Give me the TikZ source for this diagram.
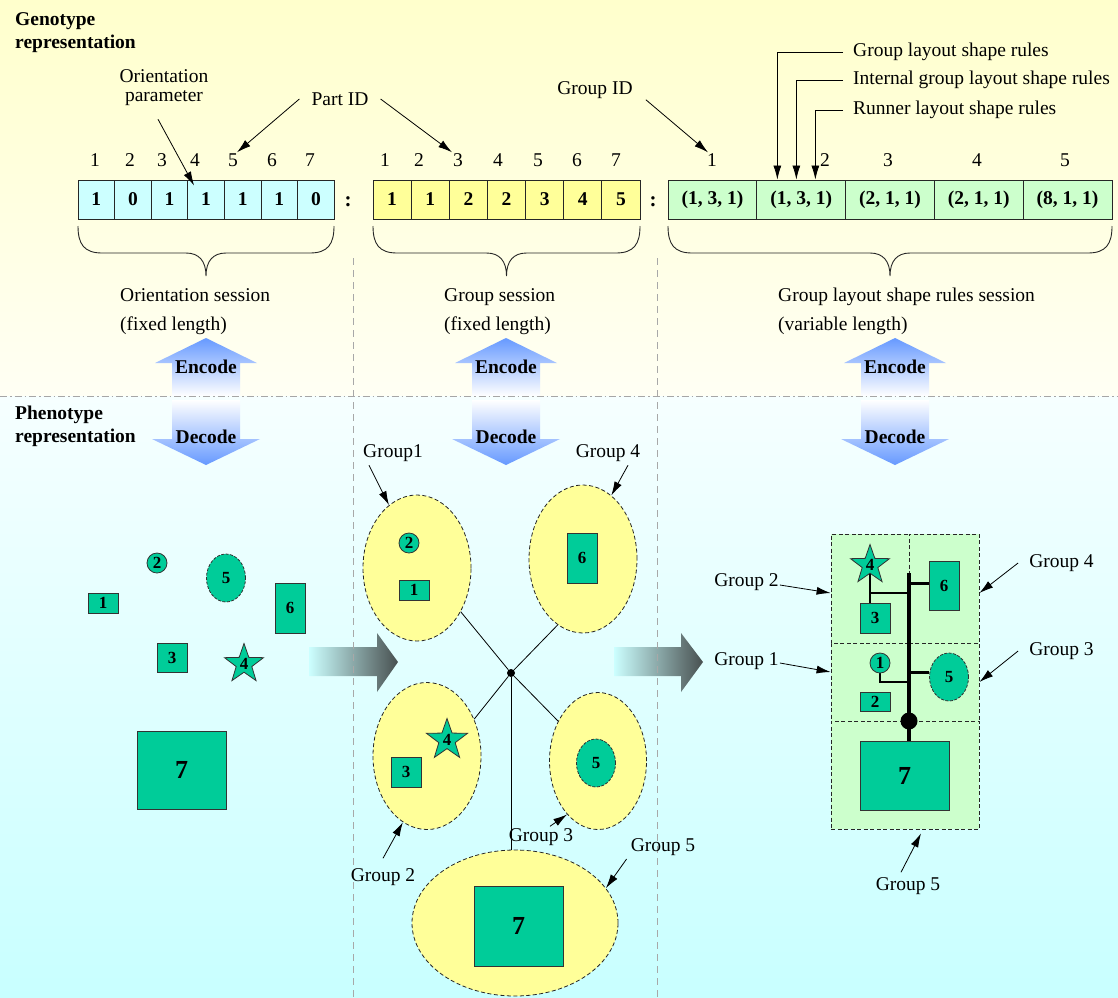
\documentclass[tikz,border=0pt]{standalone}
\usepackage{fontspec}
\setmainfont{Liberation Serif}
\usetikzlibrary{shapes.geometric,arrows.meta,calc}
\pgfdeclarelayer{back}
\pgfdeclarelayer{wire}
\pgfsetlayers{back,wire,main}

\definecolor{partgreen}{HTML}{00CC99}
\definecolor{cellcyan}{HTML}{CCFFFF}
\definecolor{cellyellow}{HTML}{FFFF99}
\definecolor{cellgreen}{HTML}{CCFFCC}
\definecolor{groupyellow}{HTML}{FFFF99}
\definecolor{arrowblue}{HTML}{6699FF}
\definecolor{topyellow}{HTML}{FFFFCC}
\definecolor{midyellow}{HTML}{FFFFF4}
\definecolor{midcyan}{HTML}{F6FFFF}
\definecolor{botcyan}{HTML}{C8FFFF}
\definecolor{flowgray}{HTML}{485050}
\definecolor{flowcyan}{HTML}{CCFFFF}
\definecolor{guidegray}{HTML}{A8A8A8}

\newcommand\lblsize{\fontsize{19.5}{21}\selectfont}

% curly brace under a chromosome session, from x=#1 to x=#2
\newcommand\sessionbrace[2]{%
  \draw[bracepen] (#1,226) .. controls (#1,244) and (#1+6,253) .. (#1+24,253)
    -- ({(#1+#2)/2-20},253) .. controls ({(#1+#2)/2-7},253) and ({(#1+#2)/2},261) .. ({(#1+#2)/2},276)
    .. controls ({(#1+#2)/2},261) and ({(#1+#2)/2+7},253) .. ({(#1+#2)/2+20},253)
    -- (#2-24,253) .. controls (#2-6,253) and (#2,244) .. (#2,226);}

\tikzset{
  lbl/.style={font=\lblsize, inner sep=1pt},
  blbl/.style={font=\lblsize\bfseries, inner sep=1pt},
  ptr/.style={-{Latex[length=14pt,width=8pt]}, line width=0.8pt},
  cell/.style={draw=black!85, line width=0.9pt, minimum height=39pt, inner sep=0pt, font=\lblsize\bfseries},
  part/.style={draw=black!80, line width=0.8pt, fill=partgreen, inner sep=0pt, font=\fontsize{17}{17}\selectfont\bfseries},
  boxpart/.style={part, rectangle},
  roundpart/.style={part, circle, minimum size=20pt},
  ovalpart/.style={part, ellipse, dash pattern=on 3pt off 1.5pt, minimum width=39pt, minimum height=48pt},
  starpart/.style={part, star, star points=5, star point ratio=2.5, minimum size=42pt},
  bigpart/.style={part, rectangle, font=\fontsize{26}{26}\selectfont\bfseries},
  grp/.style={ellipse, draw=black!85, dash pattern=on 4pt off 2.5pt, fill=groupyellow, line width=0.8pt, inner sep=0pt},
  zone/.style={rectangle, draw=black!85, dash pattern=on 4pt off 2.5pt, fill=cellgreen, line width=0.8pt, inner sep=0pt},
  guide/.style={draw=guidegray, line width=0.9pt, dash pattern=on 7pt off 5pt},
  sepline/.style={draw=gray!70, line width=0.9pt, dash pattern=on 7pt off 3pt on 1.5pt off 3pt},
  bracepen/.style={line width=0.9pt, draw=black!85},
  wirethin/.style={line width=0.8pt},
  runner/.style={line width=4.5pt},
  twig/.style={line width=3pt},
  fine/.style={line width=2pt},
  flow/.style={left color=flowcyan, right color=flowgray},
  rulelbl/.style={lbl, anchor=west, inner xsep=10pt},
}

\begin{document}
\begin{tikzpicture}[x=1pt,y=-1pt]
\useasboundingbox (0,0) rectangle (1118,997);

% ---------- backgrounds ----------
\begin{pgfonlayer}{back}
  \fill[top color=topyellow, bottom color=midyellow] (0,0) rectangle (1118,396);
  \fill[top color=midcyan, bottom color=botcyan] (0,396) rectangle (1118,997);
\end{pgfonlayer}

% ---------- encode / decode arrows ----------
\foreach \c in {206,506,895}{
  \path[top color=arrowblue, middle color=arrowblue!45, bottom color=white]
    (\c-51,363) -- (\c,338) -- (\c+51,363) -- (\c+34,363) -- (\c+34,396) -- (\c-34,396) -- (\c-34,363) -- cycle;
  \path[top color=white, middle color=arrowblue!45, bottom color=arrowblue]
    (\c-34,400) -- (\c+34,400) -- (\c+34,439) -- (\c+54,439) -- (\c,465) -- (\c-54,439) -- (\c-34,439) -- cycle;
}

% ---------- flow arrows between the phenotype panels ----------
\path[flow] (309,647) -- (377,647) -- (377,633) -- (398,662) -- (377,692) -- (377,676) -- (309,676) -- cycle;
\path[flow] (614,647) -- (681,647) -- (681,633) -- (703,662) -- (681,692) -- (681,676) -- (614,676) -- cycle;

% ---------- panel separators ----------
\draw[guide] (353,258) -- (353,997);
\draw[guide] (657,258) -- (657,997);
\draw[sepline] (0,396) -- (1118,396);

\foreach \c in {206,506,895}{
  \node[blbl] (enc\c) at (\c,367) {Encode};
  \node[blbl] (dec\c) at (\c,437) {Decode};
}

% ---------- section titles ----------
\node[anchor=west, align=left, inner sep=0pt, font=\fontsize{19.5}{23}\selectfont\bfseries] (geno) at (15,33) {Genotype\\representation};
\node[anchor=west, align=left, inner sep=0pt, font=\fontsize{19.5}{23}\selectfont\bfseries] (pheno) at (15,426) {Phenotype\\representation};

% ---------- chromosome ----------
\foreach \v [count=\i] in {1,0,1,1,1,1,0}
  \node[cell, fill=cellcyan, minimum width=36.6pt] (o\i) at ({78+36.6*(\i-0.5)},199.5) {\v};
\foreach \x [count=\i] in {95,130,162,195,233,272,310}
  \node[lbl] (on\i) at (\x,160) {\i};

\foreach \v [count=\i] in {1,1,2,2,3,4,5}
  \node[cell, fill=cellyellow, minimum width=38.15pt] (s\i) at ({373+38.15*(\i-0.5)},199.5) {\v};
\foreach \x [count=\i] in {385,419,458,498,538,577,616}
  \node[lbl] (sn\i) at (\x,160) {\i};

\foreach \v [count=\i] in {{(1, 3, 1)},{(1, 3, 1)},{(2, 1, 1)},{(2, 1, 1)},{(8, 1, 1)}}
  \node[cell, fill=cellgreen, minimum width=88.8pt] (rule\i) at ({668+88.8*(\i-0.5)},199.5) {\v};
\foreach \x [count=\i] in {712,825,888,977,1065}
  \node[lbl] (rn\i) at (\x,160) {\i};

\node[font=\fontsize{21}{21}\selectfont\bfseries, inner sep=0pt] (colA) at (348,202) {:};
\node[font=\fontsize{21}{21}\selectfont\bfseries, inner sep=0pt] (colB) at (653,202) {:};

% ---------- chromosome annotations ----------
\node[lbl, align=center, font=\fontsize{19.5}{19}\selectfont] (op) at (164,88) {Orientation\\parameter};
\draw[ptr] ([shift={(-6,12)}]op.south) -- ([shift={(-12,6)}]o4.north);

\node[lbl, inner xsep=12pt] (pid) at (340,99) {Part ID};
\draw[ptr] (pid.west) -- ([xshift=4pt]on5.north);
\draw[ptr] (pid.east) -- ([xshift=-6pt]sn3.north);

\node[lbl] (gid) at (595,90) {Group ID};
\draw[ptr] ([xshift=12pt]gid.south east) -- ([xshift=-4pt]rn1.north);

\node[rulelbl] (lr1) at (843,52) {Group layout shape rules};
\node[rulelbl] (lr2) at (843,80) {Internal group layout shape rules};
\node[rulelbl] (lr3) at (843,110) {Runner layout shape rules};
\draw[ptr] (lr1.west) -| ([xshift=21pt]rule2.north west);
\draw[ptr] (lr2.west) -| ([xshift=40pt]rule2.north west);
\draw[ptr] (lr3.west) -| ([xshift=59pt]rule2.north west);

% ---------- session braces ----------
\sessionbrace{78}{334}
\sessionbrace{373}{640}
\sessionbrace{668}{1112}

\node[lbl, anchor=west, align=left, font=\fontsize{19.5}{29}\selectfont] (sesA) at (119,311.5) {Orientation session\\(fixed length)};
\node[lbl, anchor=west, align=left, font=\fontsize{19.5}{29}\selectfont] (sesB) at (443,311.5) {Group session\\(fixed length)};
\node[lbl, anchor=west, align=left, font=\fontsize{19.5}{29}\selectfont] (sesC) at (777,311.5) {Group layout shape rules session\\(variable length)};

% ---------- phenotype: loose parts ----------
\node[boxpart, minimum width=30pt, minimum height=20pt] (a1) at (103,603) {1};
\node[roundpart] (a2) at (157,563) {2};
\node[ovalpart] (a5) at (226,578) {5};
\node[boxpart, minimum width=30pt, minimum height=50pt] (a6) at (290,608) {6};
\node[boxpart, minimum width=30pt, minimum height=29pt] (a3) at (172,657.5) {3};
\node[starpart, minimum size=41pt] (a4) at (244,664) {4};
\node[bigpart, minimum width=89pt, minimum height=78pt] (a7) at (181.5,770) {7};

% ---------- phenotype: grouped parts ----------
\node[grp, minimum width=108pt, minimum height=146pt] (g1) at (417,568) {};
\node[grp, minimum width=108pt, minimum height=148pt] (g4) at (583,559) {};
\node[grp, minimum width=108pt, minimum height=147pt] (g2) at (427,756) {};
\node[grp, minimum width=97pt, minimum height=137pt] (g3) at (598,761) {};
\node[grp, minimum width=206pt, minimum height=146pt] (g5) at (515,923) {};

\node[roundpart] (m2) at (409,543) {2};
\node[boxpart, minimum width=30pt, minimum height=20pt] (m1) at (414,590) {1};
\node[boxpart, minimum width=30pt, minimum height=50pt] (m6) at (582,558) {6};
\node[starpart, minimum size=43pt] (m4) at (447,740) {4};
\node[boxpart, minimum width=30pt, minimum height=30pt] (m3) at (406,772) {3};
\node[ovalpart] (m5) at (596,763) {5};
\node[bigpart, minimum width=89pt, minimum height=80pt] (m7) at (518.5,926) {7};

\node[circle, fill=black, inner sep=0pt, minimum size=8pt] (hub) at (511,673) {};
\draw[wirethin] (hub) -- (g1.315);
\draw[wirethin] (hub) -- (g4.249);
\draw[wirethin] (hub) -- (g2.38);
\draw[wirethin] (hub) -- (g3.135);
\draw[wirethin] (hub) -- (hub |- g5.north);

\node[lbl] (ml1) at (393,453) {Group1};
\node[lbl] (ml4) at (608,453) {Group 4};
\node[lbl] (ml2) at (383,877) {Group 2};
\node[lbl] (ml3) at (541,837) {Group 3};
\node[lbl] (ml5) at (663,847) {Group 5};
\draw[ptr] ([shift={(-24,2.5)}]ml1.south) -- (g1.114);
\draw[ptr] ([shift={(20,2.5)}]ml4.south) -- (g4.66);
\draw[ptr] ([shift={(0,-9)}]ml2.north) -- (g2.250);
\draw[ptr] ([shift={(9,-1)}]ml3.north) -- (g3.240);
\draw[ptr] ([shift={(-3,12)}]ml5.west) -- (g5.21);

% ---------- phenotype: final layout ----------
\begin{pgfonlayer}{back}
  \node[zone, minimum width=78pt, minimum height=109pt] (r2) at (870,588.5) {};
  \node[zone, minimum width=70pt, minimum height=109pt] (r4) at (944,588.5) {};
  \node[zone, minimum width=78pt, minimum height=78pt] (r1) at (870,682) {};
  \node[zone, minimum width=70pt, minimum height=78pt] (r3) at (944,682) {};
  \node[zone, minimum width=148pt, minimum height=108pt] (r5) at (905,775) {};
\end{pgfonlayer}

\coordinate (runtop) at (909,573);
\node[boxpart, minimum width=30pt, minimum height=49pt] (q6) at (944,585.5) {6};
\node[starpart, minimum size=41pt] (q4) at (870,565) {4};
\node[boxpart, minimum width=30pt, minimum height=30pt] (q3) at (875,618) {3};
\node[roundpart] (q1) at (880,663) {1};
\node[boxpart, minimum width=30pt, minimum height=19pt] (q2) at (875,701.5) {2};
\node[ovalpart] (q5) at (949,677) {5};
\node[bigpart, minimum width=89pt, minimum height=69pt] (q7) at (904.5,775.5) {7};
\node[circle, fill=black, inner sep=0pt, minimum size=17pt] (knot) at (909,721) {};

\coordinate (j34) at (870,593);
\coordinate (j12) at (880,682);
\coordinate (b6) at ([yshift=2.5pt]q6.west);
\coordinate (b5) at ([yshift=5pt]q5.west);
\begin{pgfonlayer}{wire}
  \draw[runner] (runtop) -- (runtop |- q7.north);
  \draw[twig] (b6 -| runtop) -- (b6);
  \draw[twig] (b5 -| runtop) -- (b5);
  \draw[fine] (q4.center) -- (q4.center |- q3.north);
  \draw[fine] (j34) -- (j34 -| runtop);
  \draw[fine] (q1.south) -- (j12) -- (j12 -| runtop);
\end{pgfonlayer}

\node[lbl] (rg2) at (746.5,582) {Group 2};
\node[lbl] (rg1) at (746.5,661) {Group 1};
\node[lbl] (rg4) at (1061.5,563) {Group 4};
\node[lbl] (rg3) at (1061.5,651) {Group 3};
\node[lbl] (rg5) at (908,886) {Group 5};
\draw[ptr] ([yshift=-3pt]rg2.east) -- ([yshift=-4.5pt]r2.west);
\draw[ptr] ([yshift=-2pt]rg1.east) -- ([yshift=10pt]r1.west);
\draw[ptr] ([xshift=-10pt]rg4.west) -- ([yshift=-4.5pt]r4.east);
\draw[ptr] ([xshift=-10pt]rg3.west) -- (r3.east);
\draw[ptr] ([shift={(-7,-4)}]rg5.north) -- ([xshift=16pt,yshift=-4pt]r5.south);
\end{tikzpicture}
\end{document}
